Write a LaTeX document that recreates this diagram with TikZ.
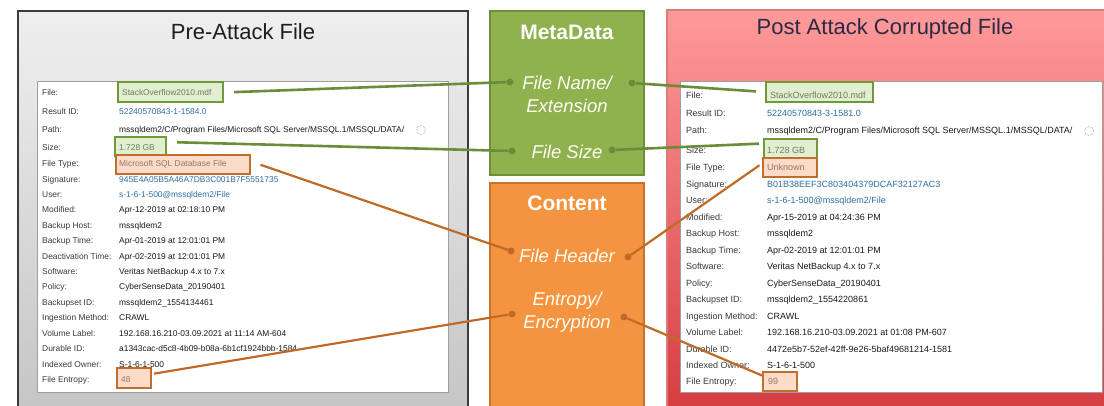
\documentclass[tikz,border=0pt]{standalone}
\usepackage{fontspec}
\setmainfont{Liberation Sans}
\usetikzlibrary{calc}
\definecolor{panelborder}{HTML}{3C3C3C}
\definecolor{graytop}{HTML}{EFEFEF}
\definecolor{graybot}{HTML}{C4C4C4}
\definecolor{pinktop}{HTML}{FF9A9A}
\definecolor{redbot}{HTML}{D43B3F}
\definecolor{pinkborder}{HTML}{DD7A7A}
\definecolor{metafill}{HTML}{8FB24F}
\definecolor{metadraw}{HTML}{6E8F3A}
\definecolor{contfill}{HTML}{F59440}
\definecolor{contdraw}{HTML}{C8732E}
\definecolor{gline}{HTML}{6B8C38}
\definecolor{oline}{HTML}{C06A28}
\definecolor{hlgfill}{HTML}{E2EED0}
\definecolor{hlgdraw}{HTML}{6E9A3A}
\definecolor{hlofill}{HTML}{FBDCC8}
\definecolor{hlodraw}{HTML}{BF6E2C}
\definecolor{labc}{HTML}{3A3A3A}
\definecolor{valc}{HTML}{1A1A1A}
\definecolor{bluc}{HTML}{2F6EA5}
\definecolor{gvalc}{HTML}{6F7A5F}
\definecolor{ovalc}{HTML}{9A7464}
\definecolor{titlec}{HTML}{1E1E1E}
\definecolor{posttitlec}{HTML}{2A2A48}
\definecolor{cardline}{HTML}{9E9E9E}
\newcommand\mrow[8]{%
  \node[lab] (#1k) at (#2,{#4+#8}) {#5};
  \node[#7] (#1v) at (#3,{#4+#8}) {#6};}
\tikzset{
  lab/.style={anchor=base west, inner sep=0pt, text=labc},
  val/.style={anchor=base west, inner sep=0pt, text=valc},
  blu/.style={anchor=base west, inner sep=0pt, text=bluc},
  gval/.style={anchor=base west, inner sep=0pt, text=gvalc},
  oval/.style={anchor=base west, inner sep=0pt, text=ovalc},
  hlg/.style={draw=hlgdraw, fill=hlgfill, line width=2pt, inner sep=0pt},
  hlo/.style={draw=hlodraw, fill=hlofill, line width=2pt, inner sep=0pt},
  cat/.style={text=white, font=\fontsize{21}{25}\selectfont\bfseries},
  item/.style={text=white!96!yellow, align=center, font=\fontsize{18.5}{23}\selectfont\itshape},
  gdot/.style={circle, fill=gline, inner sep=0pt, minimum size=7pt},
  odot/.style={circle, fill=oline, inner sep=0pt, minimum size=7pt},
  gconn/.style={draw=gline, line width=2.6pt},
  oconn/.style={draw=oline, line width=2.2pt},
  card/.style={draw=cardline, fill=white, line width=0.8pt},
  icon/.style={circle, draw=gray!55, densely dotted, line width=0.8pt, inner sep=0pt, minimum size=9pt}
}
\begin{document}
\begin{tikzpicture}[x=1pt,y=-1pt]
\useasboundingbox (0,0) rectangle (1104,406);
\fill[white] (0,0) rectangle (1104,406);
\begin{scope}
\clip (0,0) rectangle (1104,406);
% left panel
\path[top color=graytop, bottom color=graybot, draw=panelborder, line width=1.6pt] (18,11) rectangle (468,420);
\node[text=titlec, font=\fontsize{22}{26}\selectfont] (pretitle) at (243,32) {Pre-Attack File};
\path[card] (37,81) rectangle (448,392);
% right panel
\path[top color=pinktop, bottom color=redbot, draw=pinkborder, line width=1.2pt] (667,10) rectangle (1112,420);
\node[text=posttitlec, font=\fontsize{22}{26}\selectfont] (posttitle) at (885,29) {Post Attack Corrupted File};
\path[card] (680,81) rectangle (1102,392);
% center boxes
\path[fill=metafill, draw=metadraw, line width=2pt] (490,11) rectangle (644,175);
\path[fill=contfill, draw=contdraw, line width=2pt] (490,183) rectangle (644,420);
\end{scope}
\node[cat] (meta) at (567,32) {MetaData};
\node[cat] (content) at (567,203) {Content};
\node[item] (fname) at (567,94.5) {File Name/\\Extension};
\node[item] (fsize) at (567,152) {File Size};
\node[item] (fheader) at (567,256) {File Header};
\node[item] (fentropy) at (567,312.5) {Entropy/\\Encryption};
\node[gdot] (dfnL) at (510,82) {};
\node[gdot] (dfnR) at (632,83) {};
\node[gdot] (dfsL) at (512,151) {};
\node[gdot] (dfsR) at (612,150) {};
\node[odot] (dfhL) at (511,251) {};
\node[odot] (dfhR) at (628,257) {};
\node[odot] (deeL) at (512,314) {};
\node[odot] (deeR) at (624,317) {};
% highlight boxes left
\node[hlg, minimum width=105pt, minimum height=20pt] (lfile) at (170.5,92.5) {};
\node[hlg, minimum width=51pt, minimum height=19pt] (lsize) at (140.5,147) {};
\node[hlo, minimum width=134pt, minimum height=19pt] (ltype) at (183,164.5) {};
\node[hlo, minimum width=34pt, minimum height=20pt] (lent) at (134,378) {};
% highlight boxes right
\node[hlg, minimum width=107pt, minimum height=20pt] (rfile) at (819.5,92) {};
\node[hlg, minimum width=53pt, minimum height=19pt] (rsize) at (790.5,148.5) {};
\node[hlo, minimum width=54pt, minimum height=19pt] (rtype) at (790,167.5) {};
\node[hlo, minimum width=34pt, minimum height=19pt] (rent) at (780,381.5) {};
% left rows
\begin{scope}[every node/.append style={font=\fontsize{8.4}{10}\selectfont}]
\mrow{l1}{42}{122}{93}{File:}{StackOverflow2010.mdf}{gval}{3}
\mrow{l2}{42}{119}{112}{Result ID:}{52240570843-1-1584.0}{blu}{3}
\mrow{l3}{42}{119}{130}{Path:}{mssqldem2/C/Program Files/Microsoft SQL Server/MSSQL.1/MSSQL/DATA/}{val}{3}
\mrow{l4}{42}{119}{148}{Size:}{1.728 GB}{gval}{3}
\mrow{l5}{42}{119}{164}{File Type:}{Microsoft SQL Database File}{oval}{3}
\mrow{l6}{42}{119}{179.2}{Signature:}{945E4A05B5A46A7DB3C001B7F5551735}{blu}{3}
\mrow{l7}{42}{119}{194.6}{User:}{s-1-6-1-500@mssqldem2/File}{blu}{3}
\mrow{l8}{42}{119}{210}{Modified:}{Apr-12-2019 at 02:18:10 PM}{val}{3}
\mrow{l9}{42}{119}{225.4}{Backup Host:}{mssqldem2}{val}{3}
\mrow{l10}{42}{119}{240.8}{Backup Time:}{Apr-01-2019 at 12:01:01 PM}{val}{3}
\mrow{l11}{42}{119}{256.2}{Deactivation Time:}{Apr-02-2019 at 12:01:01 PM}{val}{3}
\mrow{l12}{42}{119}{271.6}{Software:}{Veritas NetBackup 4.x to 7.x}{val}{3}
\mrow{l13}{42}{119}{287}{Policy:}{CyberSenseData\_20190401}{val}{3}
\mrow{l14}{42}{119}{302.4}{Backupset ID:}{mssqldem2\_1554134461}{val}{3}
\mrow{l15}{42}{119}{317.8}{Ingestion Method:}{CRAWL}{val}{3}
\mrow{l16}{42}{119}{333.2}{Volume Label:}{192.168.16.210-03.09.2021 at 11:14 AM-604}{val}{3}
\mrow{l17}{42}{119}{348.6}{Durable ID:}{a1343cac-d5c8-4b09-b08a-6b1cf1924bbb-1584}{val}{3}
\mrow{l18}{42}{119}{364}{Indexed Owner:}{S-1-6-1-500}{val}{3}
\mrow{l19}{42}{121}{379}{File Entropy:}{48}{oval}{3}
\end{scope}
\node[icon] (licon) at (421,130) {};
% right rows
\begin{scope}[every node/.append style={font=\fontsize{9}{11}\selectfont}]
\mrow{r1}{686}{770}{95}{File:}{StackOverflow2010.mdf}{gval}{3.2}
\mrow{r2}{686}{767}{113}{Result ID:}{52240570843-3-1581.0}{blu}{3.2}
\mrow{r3}{686}{767}{130}{Path:}{mssqldem2/C/Program Files/Microsoft SQL Server/MSSQL.1/MSSQL/DATA/}{val}{3.2}
\mrow{r4}{686}{767}{150}{Size:}{1.728 GB}{gval}{3.2}
\mrow{r5}{686}{767}{167.5}{File Type:}{Unknown}{oval}{3.2}
\mrow{r6}{686}{767}{184}{Signature:}{B01B38EEF3C803404379DCAF32127AC3}{blu}{3.2}
\mrow{r7}{686}{767}{200.5}{User:}{s-1-6-1-500@mssqldem2/File}{blu}{3.2}
\mrow{r8}{686}{767}{217}{Modified:}{Apr-15-2019 at 04:24:36 PM}{val}{3.2}
\mrow{r9}{686}{767}{233.5}{Backup Host:}{mssqldem2}{val}{3.2}
\mrow{r10}{686}{767}{250}{Backup Time:}{Apr-02-2019 at 12:01:01 PM}{val}{3.2}
\mrow{r11}{686}{767}{266.5}{Software:}{Veritas NetBackup 4.x to 7.x}{val}{3.2}
\mrow{r12}{686}{767}{283}{Policy:}{CyberSenseData\_20190401}{val}{3.2}
\mrow{r13}{686}{767}{299.5}{Backupset ID:}{mssqldem2\_1554220861}{val}{3.2}
\mrow{r14}{686}{767}{316}{Ingestion Method:}{CRAWL}{val}{3.2}
\mrow{r15}{686}{767}{332.5}{Volume Label:}{192.168.16.210-03.09.2021 at 01:08 PM-607}{val}{3.2}
\mrow{r16}{686}{767}{349}{Durable ID:}{4472e5b7-52ef-42ff-9e26-5baf49681214-1581}{val}{3.2}
\mrow{r17}{686}{767}{365.5}{Indexed Owner:}{S-1-6-1-500}{val}{3.2}
\mrow{r18}{686}{768}{381.5}{File Entropy:}{99}{oval}{3.2}
\end{scope}
\node[icon] (ricon) at (1089,131) {};
% connectors
\draw[gconn, shorten <=10pt] (lfile.east) -- (dfnL);
\draw[gconn, shorten >=9pt] (dfnR) -- (rfile.west);
\draw[gconn, shorten <=10pt] ([yshift=5pt]lsize.east) -- (dfsL);
\draw[gconn, shorten >=4pt] (dfsR) -- ([yshift=5pt]rsize.west);
\draw[oconn, shorten <=10pt] ([yshift=3pt]ltype.east) -- (dfhL);
\draw[oconn, shorten >=3pt] (dfhR) -- ([yshift=4pt]rtype.west);
\draw[oconn, shorten <=2pt] ([yshift=4pt]lent.east) -- (deeL);
\draw[oconn] (deeR) -- ([yshift=6pt]rent.west);
\end{tikzpicture}
\end{document}
